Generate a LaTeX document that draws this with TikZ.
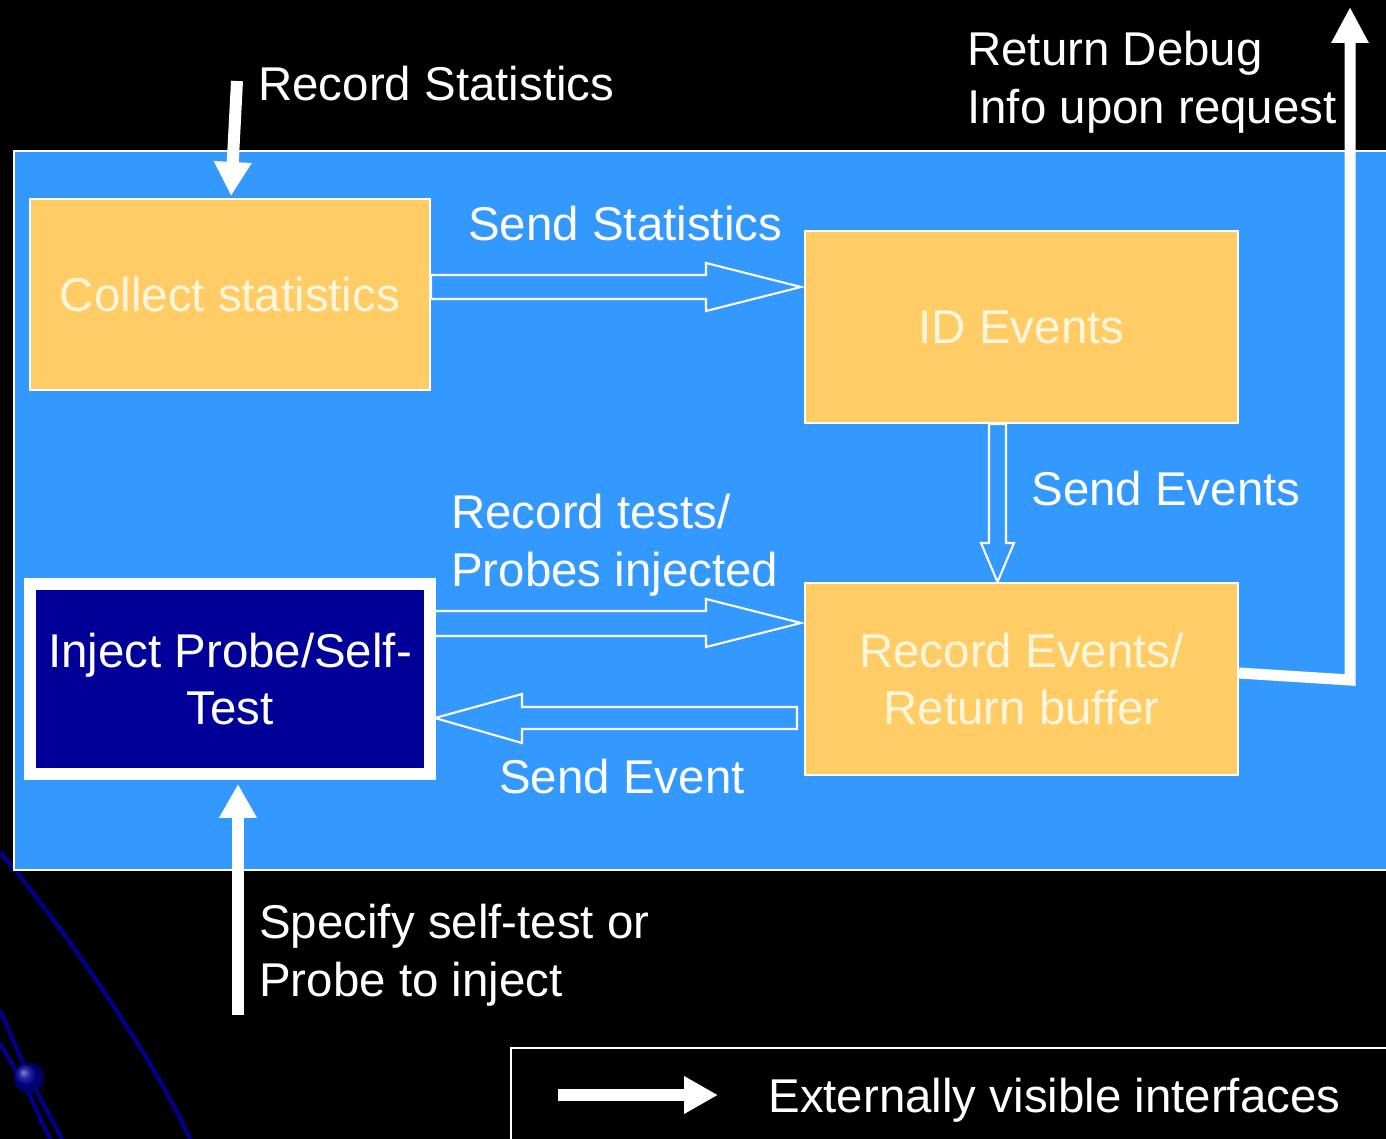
\documentclass[tikz,border=0pt]{standalone}
\usepackage{fontspec}
\setmainfont{Liberation Sans}
\usetikzlibrary{arrows.meta,calc}
\definecolor{bgblue}{HTML}{3399FF}
\definecolor{boxorange}{HTML}{FFCC66}
\definecolor{navyfill}{HTML}{000099}
\definecolor{cream}{HTML}{FFF6DC}
\definecolor{deco}{HTML}{00008C}
\begin{document}
\begin{tikzpicture}[x=0.02cm,y=-0.02cm,
  lbl/.style={text=white,font=\fontsize{27}{32.9}\selectfont,inner sep=0pt},
  obox/.style={draw=white,line width=1.2pt,fill=boxorange,text=cream,
    font=\fontsize{27}{32.9}\selectfont,align=center,inner sep=0pt,
    minimum width=8.66cm,minimum height=3.84cm},
  hollow/.style={draw=white,line width=1.2pt,line join=miter},
  ext/.style={draw=white,line width=0.24cm,line join=miter,
    -{Triangle[length=0.68cm,width=0.71cm]}},
  ext2/.style={draw=white,line width=0.22cm,line join=miter,
    -{Triangle[length=0.72cm,width=0.70cm]}}]
\useasboundingbox (0,0) rectangle (1386,1139);
\fill[black] (0,0) rectangle (1386,1139);
% background decoration
\draw[deco,line width=2.4pt] (0,852) .. controls (50,910) and (150,1050) .. (190,1139);
\draw[deco,line width=2.4pt] (0,1010) -- (29,1077) -- (62,1139);
\draw[deco,line width=2.4pt] (0,1043) -- (26,1088) -- (50,1139);
\fill[deco] (29,1078) circle (15);
\shade[ball color=navyfill,opacity=0.6] (29,1078) circle (15);
% main panel
\draw[white,line width=1.2pt,fill=bgblue] (14,151) rectangle (1395,870);
% boxes
\node[obox,minimum width=8cm,minimum height=3.82cm] (collect) at (230,294.5) {Collect statistics};
\node[obox] (ide) at (1021.5,327) {ID Events};
\node[obox] (rec) at (1021.5,679) {Record Events/\\Return buffer};
\node[draw=white,line width=6.8pt,fill=navyfill,text=white,
  font=\fontsize{27}{32.9}\selectfont,align=center,inner sep=0pt,
  minimum width=8cm,minimum height=3.8cm] (inject) at (230,679) {Inject Probe/Self-\\Test};
% hollow block arrows
\draw[hollow] (collect.east |- 0,275) -- (706,275) -- (706,263) -- ($(ide.west |- 0,287)+(-3,0)$)
  -- (706,311) -- (706,299) -- (collect.east |- 0,299) -- cycle;
\draw[hollow] ($(inject.east |- 0,611)+(-4,0)$) -- (706,611) -- (706,599) -- ($(rec.west |- 0,623)+(-3,0)$)
  -- (706,647) -- (706,636) -- ($(inject.east |- 0,636)+(-4,0)$) -- cycle;
\draw[hollow] ($(rec.west |- 0,707)+(-7,0)$) -- (522,707) -- (522,694) -- ($(inject.east |- 0,718)+(-1,0)$)
  -- (522,743) -- (522,729) -- ($(rec.west |- 0,729)+(-7,0)$) -- cycle;
\draw[hollow] (ide.south -| 989,0) -- (989,543) -- (981,543) -- (rec.north -| 997.5,0)
  -- (1014,543) -- (1006,543) -- (ide.south -| 1006,0) -- cycle;
% externally visible interfaces
\coordinate (rsstart) at (237,81);
\draw[ext] (rsstart) -- ($(collect.north)+(1,-2)$);
\coordinate (rdtop) at (1350,7);
\draw[ext2] ($(rec.east)+(0,-6)$) -- (1350,680) -- (rdtop);
\coordinate (spstart) at (238,1015);
\draw[ext] (spstart) -- ($(inject.south)+(8,4)$);
% legend
\draw[white,line width=1.2pt] (511,1048) rectangle (1395,1150);
\coordinate (lga) at (558,1095);
\coordinate (lgb) at (718,1095);
\draw[ext] (lga) -- (lgb);
% labels
\node[lbl,anchor=base west] (trs) at (258,100) {Record Statistics};
\node[lbl,anchor=base west,align=left] (trd) at (967,123) {Return Debug\\Info upon request};
\node[lbl,anchor=base west] (tss) at (468,240) {Send Statistics};
\node[lbl,anchor=base west] (tse) at (1031,505) {Send Events};
\node[lbl,anchor=base west,align=left] (trt) at (451,586) {Record tests/\\Probes injected};
\node[lbl,anchor=base west] (tsev) at (499,793) {Send Event};
\node[lbl,anchor=base west,align=left] (tsp) at (259,996) {Specify self-test or\\Probe to inject};
\node[lbl,anchor=base west] (tev) at (768,1112) {Externally visible interfaces};
\end{tikzpicture}
\end{document}
